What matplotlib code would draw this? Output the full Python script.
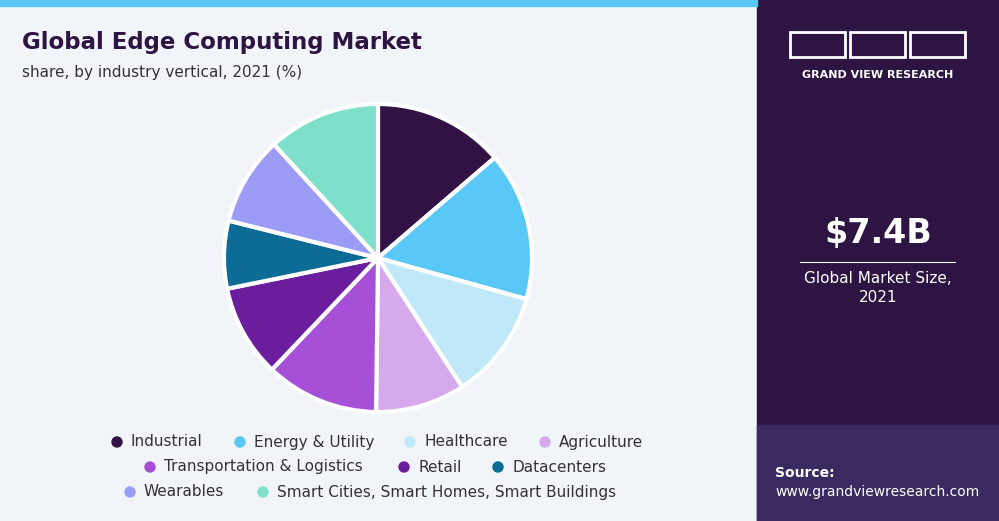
import matplotlib
matplotlib.use("Agg")
import matplotlib.pyplot as plt
from matplotlib.patches import Rectangle, Circle

categories = ["Industrial", "Energy & Utility", "Healthcare", "Agriculture",
              "Transportation & Logistics", "Retail", "Datacenters", "Wearables",
              "Smart Cities, Smart Homes, Smart Buildings"]
shares = [13.7, 15.6, 11.5, 9.4, 11.9, 9.7, 7.1, 9.3, 11.8]
colors = ["#321245", "#5ac8f7", "#bfe8f9", "#d6a9ec", "#a650d8", "#6a1e9e",
          "#0c6c96", "#9c9cf7", "#7ee0cb"]

W, H = 999, 521
fig = plt.figure(figsize=(W/100, H/100), dpi=100)
bg = fig.add_axes([0, 0, 1, 1]); bg.set_xlim(0, W); bg.set_ylim(H, 0); bg.axis("off")
bg.add_patch(Rectangle((0, 0), 757, H, color="#f1f5f9"))
bg.add_patch(Rectangle((757, 0), W-757, H, color="#2d1442"))
bg.add_patch(Rectangle((757, 425), W-757, H-425, color="#3a2a60"))
bg.add_patch(Rectangle((0, 0), 757, 6, color="#5ac8f7"))

bg.text(22, 43, "Global Edge Computing Market", fontsize=16.5, fontweight="bold", color="#2d1442", va="center")
bg.text(22, 73, "share, by industry vertical, 2021 (%)", fontsize=11, color="#333333", va="center")
bg.text(878, 75, "GRAND VIEW RESEARCH", fontsize=8, fontweight="bold", color="white", ha="center", va="center")
for x0 in (790, 850, 910):
    bg.add_patch(Rectangle((x0, 32), 55, 25, fill=False, ec="white", lw=2))
bg.text(878, 233, "$7.4B", fontsize=24, fontweight="bold", color="white", ha="center", va="center")
bg.plot([800, 955], [262, 262], color="white", lw=0.8)
bg.text(878, 288, "Global Market Size,\n2021", fontsize=11, color="white", ha="center", va="center", linespacing=1.4)
bg.text(775, 473, "Source:", fontsize=10, fontweight="bold", color="white", va="center")
bg.text(775, 492, "www.grandviewresearch.com", fontsize=10, color="white", va="center")

R = 154
ax = fig.add_axes([(378-R)/W, 1-(258+R)/H, 2*R/W, 2*R/H])
ax.pie(shares, colors=colors, startangle=90, counterclock=False,
       wedgeprops=dict(edgecolor="white", linewidth=3))
ax.set_xlim(-1, 1); ax.set_ylim(-1, 1)
ax.set_aspect("equal")

rows = [[(0, 117), (1, 240), (2, 410), (3, 545)],
        [(4, 150), (5, 404), (6, 498)],
        [(7, 130), (8, 263)]]
ys = [442, 467, 492]
for row, y in zip(rows, ys):
    for i, x in row:
        bg.add_patch(Circle((x, y), 5, color=colors[i]))
        bg.text(x + 14, y, categories[i], fontsize=11, color="#333333", va="center")

fig.savefig("out.png", dpi=100)
